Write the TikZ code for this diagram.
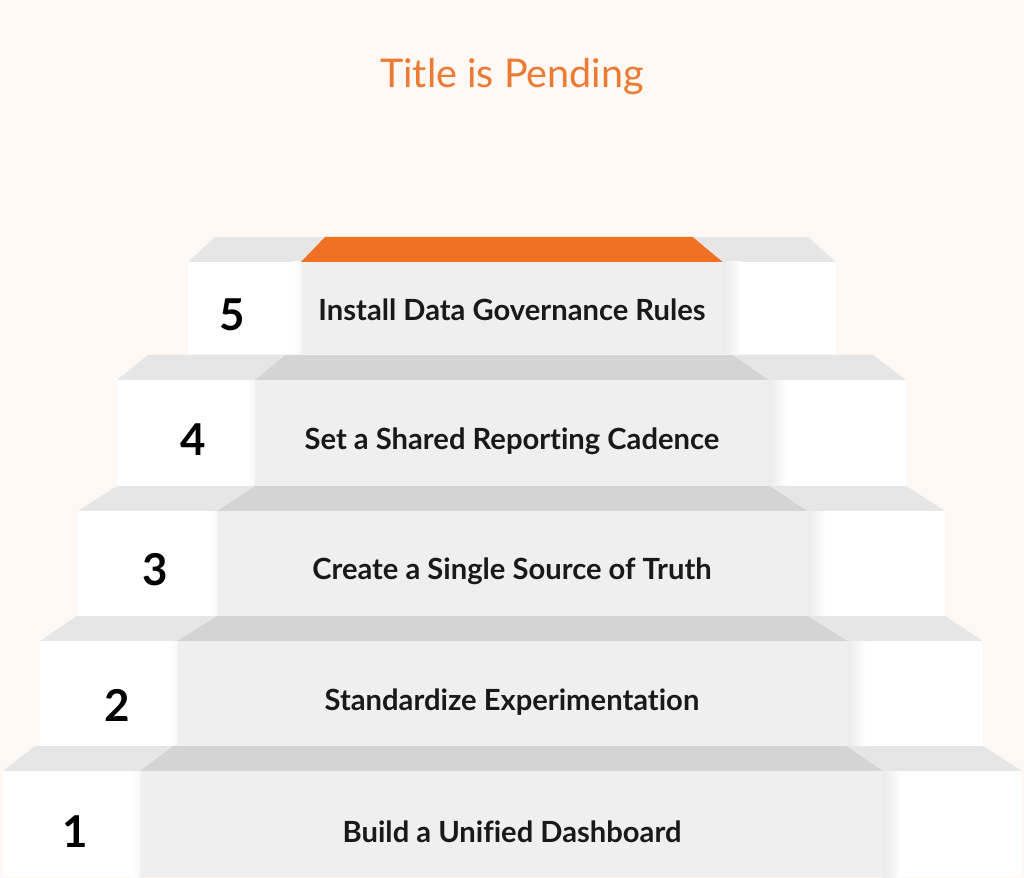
\documentclass[tikz,border=0pt]{standalone}
\usepackage{fontspec}
\setmainfont{Lato}[Ligatures=NoCommon]
\definecolor{bgcream}{HTML}{FDF8F3}
\definecolor{topgrey}{HTML}{E6E6E6}
\definecolor{topdark}{HTML}{D4D4D4}
\definecolor{frontgrey}{HTML}{F0EFEF}
\definecolor{stairorange}{HTML}{F07024}
\definecolor{titleorange}{HTML}{EC7A32}
\tikzset{
  steplabel/.style={font=\bfseries\fontsize{16.6}{19}\selectfont, text=black!90},
  stepnum/.style={font=\bfseries\fontsize{25}{28}\selectfont, text=black},
}

\begin{document}
\begin{tikzpicture}[x=0.02cm, y=-0.02cm]
    \fill[bgcream] (0,0) rectangle (1024,878);
    \useasboundingbox (0,0) rectangle (1024,878);
    % steps: front top/bottom, front edges, top face edges, centre top colour
    \foreach \yt/\yb/\xl/\xcl/\xcr/\xr/\tl/\tcl/\tcr/\tr/\topc in {
        262/354/188/301/723/836/215/325/693/808/stairorange,
        380/486/117/255/769/906/148/285/733/873/topdark,
        511/616/78/217/808/945/117/255/770/906/topdark,
        641/746/40/177/848/983/77/217/808/945/topdark,
        771/877/3/140/883/1022/35/173/847/983/topdark}{
        \fill[topgrey] (\xl,\yt) -- (\tl,\yt-25) -- (\tcl,\yt-25) -- (\xcl,\yt) -- cycle;
        \fill[\topc] (\xcl,\yt) -- (\tcl,\yt-25) -- (\tcr,\yt-25) -- (\xcr,\yt) -- cycle;
        \fill[topgrey] (\xcr,\yt) -- (\tcr,\yt-25) -- (\tr,\yt-25) -- (\xr,\yt) -- cycle;
        \fill[white] (\xl,\yt) rectangle (\xcl,\yb);
        \fill[frontgrey] (\xcl,\yt) rectangle (\xcr,\yb);
        \fill[white] (\xcr,\yt) rectangle (\xr,\yb);
        \shade[left color=white, right color=black!3] (\xcl-8,\yt) rectangle (\xcl,\yb);
        \shade[left color=black!8, right color=white] (\xcr,\yt) rectangle (\xcr+18,\yb);
    }
    \node (title) at (512,77) [font=\fontsize{22.5}{26}\selectfont, text=titleorange] {Title is Pending};
    \node (num5) at (232,315) [stepnum] {5};
    \node (num4) at (193,440) [stepnum] {4};
    \node (num3) at (155,570) [stepnum] {3};
    \node (num2) at (117,705) [stepnum] {2};
    \node (num1) at (75,832) [stepnum] {1};
    \node (lbl5) at (512,310) [steplabel] {Install Data Governance Rules};
    \node (lbl4) at (512,441) [steplabel] {Set a Shared Reporting Cadence};
    \node (lbl3) at (512,571) [steplabel] {Create a Single Source of Truth};
    \node (lbl2) at (512,702) [steplabel] {Standardize Experimentation};
    \node (lbl1) at (512,832) [steplabel] {Build a Unified Dashboard};
\end{tikzpicture}
\end{document}
